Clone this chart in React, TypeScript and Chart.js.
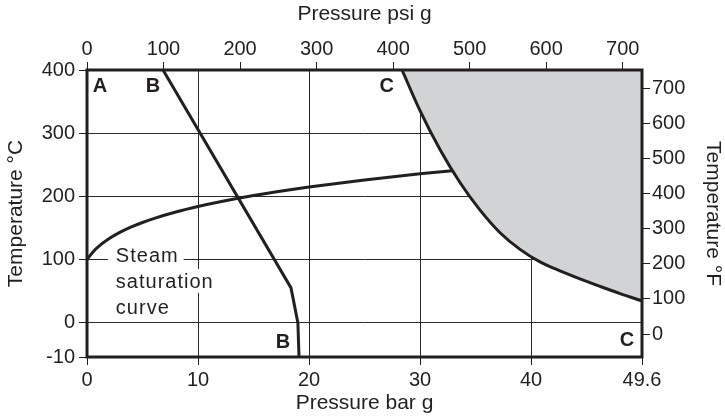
import React, { useEffect, useRef } from "react";
import { Chart, registerables } from "chart.js";

Chart.register(...registerables);

// Axis ticks
const barTicks = [0, 10, 20, 30, 40, 50];
const barTickLabels = ["0", "10", "20", "30", "40", "49.6"];
const psiTicks = [0, 100, 200, 300, 400, 500, 600, 700];
const celsiusTicks = [-54, 0, 100, 200, 300, 400];
const celsiusTickLabels = ["-10", "0", "100", "200", "300", "400"];
const fahrenheitTicks = [0, 100, 200, 300, 400, 500, 600, 700];

// Steam saturation curve (bar g, °C)
const steamPressure = [0, 0.5, 1, 2, 3, 4, 5, 6, 8, 10, 12, 15, 18, 20, 25, 30, 32.9];
const steamTemp = [100, 111.4, 120.2, 133.5, 143.6, 151.8, 158.8, 165, 175.4, 184.1, 191.6, 201.4, 209.8, 214.9, 226, 235.7, 240.5];

// Line B (bar g, °C)
const lineBPressure = [6.85, 18.38, 19.0, 19.1];
const lineBTemp = [400, 55.3, 0, -54];

// Curve C (bar g, °C)
const lineCPressure = [28.38, 30.0, 31.8, 33.6, 35.41, 37.21, 39.01, 40.81, 42.61, 44.41, 46.22, 48.02, 50];
const lineCTemp = [400, 335.8, 274.2, 222.0, 178.3, 142.6, 116.2, 96.4, 82.2, 69.6, 57.7, 46.3, 34.8];

// Annotation labels (data coordinates)
const letterText = ["A", "B", "C", "B", "C"];
const letterX = [1.17, 5.95, 27.0, 17.66, 48.65];
const letterY = [376, 376, 376, -30, -27];
const steamLabelLines = ["Steam", "saturation", "curve"];
const steamLabelX = 2.6;
const steamLabelY = 96.4;

const INK = "#231f20";
const FONT = "'Liberation Sans', Arial, Helvetica, sans-serif";

export default function App() {
  const canvasRef = useRef<HTMLCanvasElement | null>(null);

  useEffect(() => {
    document.body.style.margin = "0";
    const canvas = canvasRef.current;
    if (!canvas) return;

    const toXY = (xs: number[], ys: number[]) => xs.map((x, i) => ({ x, y: ys[i] }));

    const annotations = {
      id: "annotations",
      beforeDatasetsDraw(chart: any) {
        const { ctx } = chart;
        const xs = chart.scales.x;
        const ys = chart.scales.y;
        ctx.save();
        ctx.font = `20px ${FONT}`;
        try { (ctx as any).letterSpacing = "1px"; } catch (e) {}
        ctx.textAlign = "left";
        ctx.textBaseline = "alphabetic";
        const x0 = xs.getPixelForValue(steamLabelX);
        const y0 = ys.getPixelForValue(steamLabelY);
        steamLabelLines.forEach((t, i) => {
          const w = ctx.measureText(t).width;
          const by = y0 + i * 26;
          ctx.fillStyle = "#ffffff";
          ctx.fillRect(x0 - 8, by - 19, w + 13, 24);
          ctx.fillStyle = INK;
          ctx.fillText(t, x0, by);
        });
        ctx.restore();
      },
      afterDatasetsDraw(chart: any) {
        const { ctx, chartArea } = chart;
        const xs = chart.scales.x;
        const ys = chart.scales.y;
        ctx.save();
        ctx.strokeStyle = INK;
        ctx.lineWidth = 3;
        ctx.strokeRect(chartArea.left, chartArea.top, chartArea.right - chartArea.left, chartArea.bottom - chartArea.top);
        ctx.fillStyle = INK;
        ctx.font = `bold 20px ${FONT}`;
        ctx.textAlign = "center";
        ctx.textBaseline = "middle";
        letterText.forEach((t, i) => {
          ctx.fillText(t, xs.getPixelForValue(letterX[i]), ys.getPixelForValue(letterY[i]) + 1);
        });
        ctx.restore();
      },
    };

    const tickFont = { family: FONT, size: 20 };
    const titleFont = { family: FONT, size: 21, lineHeight: 1 };

    const chart = new Chart(canvas, {
      type: "line",
      data: {
        datasets: [
          {
            label: "C",
            data: toXY(lineCPressure, lineCTemp),
            borderColor: INK,
            borderWidth: 3,
            backgroundColor: "#d1d3d4",
            fill: "end",
            pointRadius: 0,
            cubicInterpolationMode: "monotone",
          },
          {
            label: "Steam saturation curve",
            data: toXY(steamPressure, steamTemp),
            borderColor: INK,
            borderWidth: 3,
            fill: false,
            pointRadius: 0,
            cubicInterpolationMode: "monotone",
          },
          {
            label: "B",
            data: toXY(lineBPressure, lineBTemp),
            borderColor: INK,
            borderWidth: 3,
            fill: false,
            pointRadius: 0,
            tension: 0,
          },
        ],
      } as any,
      options: {
        animation: false,
        responsive: false,
        devicePixelRatio: 1,
        layout: { padding: 0 },
        plugins: { legend: { display: false }, tooltip: { enabled: false } },
        scales: {
          x: {
            type: "linear",
            position: "bottom",
            min: 0,
            max: 50,
            afterBuildTicks: (s: any) => { s.ticks = barTicks.map((v) => ({ value: v })); },
            afterFit: (s: any) => { s.height = 61; },
            ticks: { callback: (_v: any, i: number) => barTickLabels[i], font: tickFont, color: INK, padding: 3, maxRotation: 0, autoSkip: false },
            grid: { color: "#2a2a2a", lineWidth: 1, tickLength: 8, tickColor: INK, drawTicks: true },
            border: { display: false },
            title: { display: true, text: "Pressure bar g", font: titleFont, color: INK, padding: { top: 0, bottom: 4 } },
          },
          x2: {
            type: "linear",
            position: "top",
            min: 0,
            max: 725.2,
            afterBuildTicks: (s: any) => { s.ticks = psiTicks.map((v) => ({ value: v })); },
            afterFit: (s: any) => { s.height = 70; },
            ticks: { font: tickFont, color: INK, padding: 1, maxRotation: 0, autoSkip: false },
            grid: { drawOnChartArea: false, tickLength: 8, tickColor: INK, lineWidth: 1 },
            border: { display: false },
            title: { display: true, text: "Pressure psi g", font: titleFont, color: INK, padding: { top: 4, bottom: 0 } },
          },
          y: {
            type: "linear",
            position: "left",
            min: -54,
            max: 400,
            afterBuildTicks: (s: any) => { s.ticks = celsiusTicks.map((v) => ({ value: v })); },
            afterFit: (s: any) => { s.width = 87; },
            ticks: { callback: (_v: any, i: number) => celsiusTickLabels[i], font: tickFont, color: INK, padding: 4, autoSkip: false },
            grid: { color: "#2a2a2a", lineWidth: 1, tickLength: 8, tickColor: INK },
            border: { display: false },
            title: { display: true, text: "Temperature °C", font: titleFont, color: INK, padding: { top: 6, bottom: 0 } },
          },
          y2: {
            type: "linear",
            position: "right",
            min: -54 * 1.8 + 32,
            max: 400 * 1.8 + 32,
            afterBuildTicks: (s: any) => { s.ticks = fahrenheitTicks.map((v) => ({ value: v })); },
            afterFit: (s: any) => { s.width = 83; },
            ticks: { font: tickFont, color: INK, padding: 2, autoSkip: false },
            grid: { drawOnChartArea: false, tickLength: 8, tickColor: INK, lineWidth: 1 },
            border: { display: false },
            title: { display: true, text: "Temperature °F", font: titleFont, color: INK, padding: { top: 1.5, bottom: 0 } },
          },
        },
      } as any,
      plugins: [annotations],
    });

    return () => chart.destroy();
  }, []);

  return (
    <div style={{ position: "absolute", left: 0, top: 0, width: 725, height: 418, background: "#ffffff" }}>
      <canvas ref={canvasRef} width={725} height={418} style={{ width: 725, height: 418, display: "block" }} />
    </div>
  );
}
